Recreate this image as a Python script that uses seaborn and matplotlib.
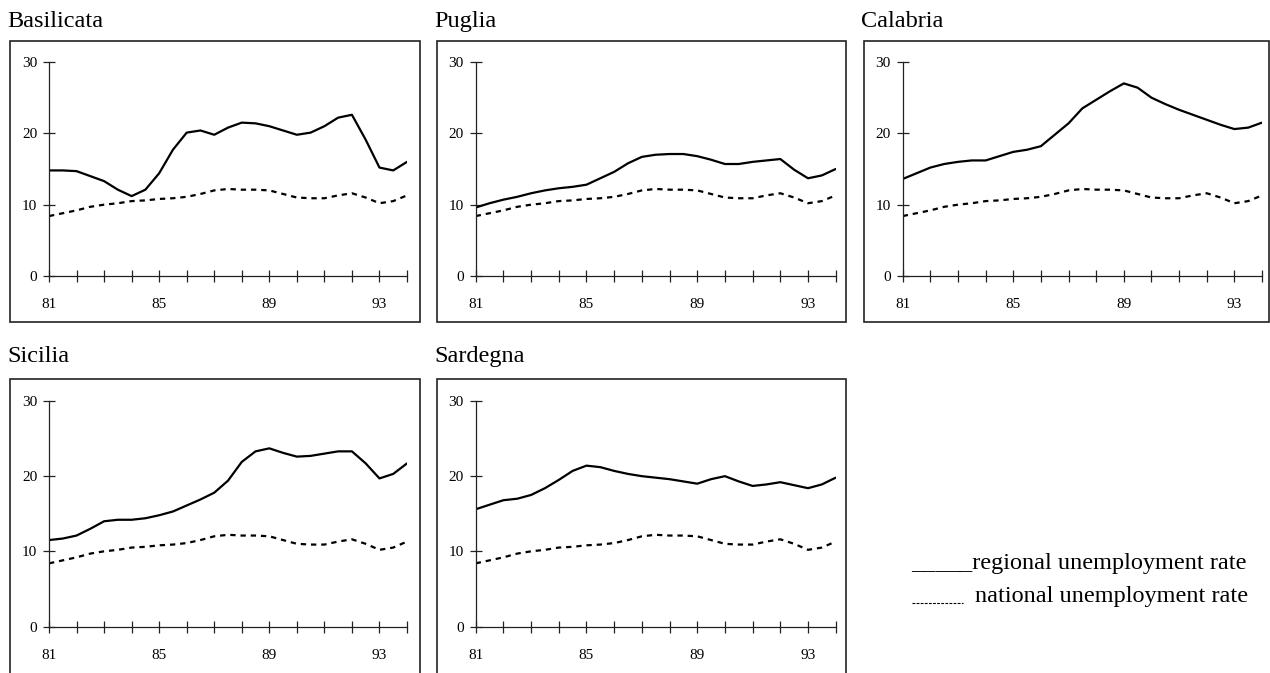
import matplotlib
matplotlib.use("Agg")
import matplotlib.pyplot as plt
from matplotlib.patches import Rectangle
from matplotlib.lines import Line2D
import seaborn as sns
import pandas as pd

sns.set_theme(style="white")
plt.rcParams['font.family'] = ['Liberation Serif', 'DejaVu Serif']

# ---- data ----
years = [81, 81.5, 82, 82.5, 83, 83.5, 84, 84.5, 85, 85.5, 86, 86.5, 87, 87.5,
         88, 88.5, 89, 89.5, 90, 90.5, 91, 91.5, 92, 92.5, 93, 93.5, 94]

national = [8.4, 8.8, 9.2, 9.7, 10.0, 10.2, 10.5, 10.6, 10.8, 10.9, 11.1, 11.5, 12.0, 12.2,
            12.1, 12.1, 12.0, 11.5, 11.0, 10.9, 10.9, 11.3, 11.6, 11.0, 10.2, 10.5, 11.3]

basilicata = [14.8, 14.8, 14.7, 14.0, 13.3, 12.1, 11.2, 12.1, 14.4, 17.7, 20.1, 20.4, 19.8, 20.8,
              21.5, 21.4, 21.0, 20.4, 19.8, 20.1, 21.0, 22.2, 22.6, 19.1, 15.2, 14.8, 16.0]
puglia = [9.6, 10.2, 10.7, 11.1, 11.6, 12.0, 12.3, 12.5, 12.8, 13.7, 14.6, 15.8, 16.7, 17.0,
          17.1, 17.1, 16.8, 16.3, 15.7, 15.7, 16.0, 16.2, 16.4, 14.9, 13.7, 14.1, 15.0]
calabria = [13.6, 14.4, 15.2, 15.7, 16.0, 16.2, 16.2, 16.8, 17.4, 17.7, 18.2, 19.8, 21.4, 23.5,
            24.7, 25.9, 27.0, 26.4, 25.0, 24.1, 23.3, 22.6, 21.9, 21.2, 20.6, 20.8, 21.5]
sicilia = [11.5, 11.7, 12.1, 13.0, 14.0, 14.2, 14.2, 14.4, 14.8, 15.3, 16.1, 16.9, 17.8, 19.4,
           21.9, 23.3, 23.7, 23.1, 22.6, 22.7, 23.0, 23.3, 23.3, 21.7, 19.7, 20.3, 21.7]
sardegna = [15.6, 16.2, 16.8, 17.0, 17.5, 18.4, 19.5, 20.7, 21.4, 21.2, 20.7, 20.3, 20.0, 19.8,
            19.6, 19.3, 19.0, 19.6, 20.0, 19.3, 18.7, 18.9, 19.2, 18.8, 18.4, 18.9, 19.8]

regions = ["Basilicata", "Puglia", "Calabria", "Sicilia", "Sardegna"]
regional_series = [basilicata, puglia, calabria, sicilia, sardegna]

xticks = [81, 82, 83, 84, 85, 86, 87, 88, 89, 90, 91, 92, 93, 94]
xticklabels = ["81", "", "", "", "85", "", "", "", "89", "", "", "", "93", ""]
yticks = [0, 10, 20, 30]
yticklabels = ["0", "10", "20", "30"]

legend_labels = ["regional unemployment rate", "national unemployment rate"]

# ---- layout (pixels) ----
W, H = 1270, 673
fig = plt.figure(figsize=(W / 100, H / 100), dpi=100)
fig.patch.set_facecolor("white")

def fx(px):
    return px / W

def fy(py):
    return 1 - py / H

# axes extents: (left, right, top, bottom) in px ; boxes: (left, right, top, bottom) ; title y
panels = [
    dict(ax=(49, 407, 62, 276), box=(10, 420, 41, 322), title_y=27),
    dict(ax=(475.7, 835.7, 62, 276), box=(437, 846, 41, 322), title_y=27),
    dict(ax=(902.7, 1262, 62, 276), box=(864, 1268.5, 41, 322), title_y=27),
    dict(ax=(49, 407, 401, 626.5), box=(10, 420, 379, 690), title_y=362),
    dict(ax=(475.7, 835.7, 401, 626.5), box=(437, 846, 379, 690), title_y=362),
]

for name, reg, p in zip(regions, regional_series, panels):
    l, r, t, b = p["ax"]
    ax = fig.add_axes([fx(l), fy(b), fx(r) - fx(l), fy(t) - fy(b)])
    ax.set_facecolor("none")
    df = pd.DataFrame({"year": years, "regional": reg, "national": national})
    sns.lineplot(data=df, x="year", y="regional", color="black", linewidth=1.6, ax=ax)
    sns.lineplot(data=df, x="year", y="national", color="black", linewidth=1.6,
                 linestyle=(0, (2.4, 2.2)), ax=ax)
    ax.set_xlim(81, 94)
    ax.set_ylim(0, 30)
    ax.set_xticks(xticks, labels=xticklabels)
    ax.set_yticks(yticks, labels=yticklabels)
    ax.set_xlabel("")
    ax.set_ylabel("")
    for s in ["top", "right"]:
        ax.spines[s].set_visible(False)
    for s in ["left", "bottom"]:
        ax.spines[s].set_visible(True)
        ax.spines[s].set_color("#222222")
        ax.spines[s].set_linewidth(0.9)
    ax.tick_params(axis="x", direction="inout", length=8, width=0.9, color="#222222",
                   pad=12, labelsize=11, labelcolor="black", bottom=True)
    ax.tick_params(axis="y", direction="inout", length=9, width=0.9, color="#222222",
                   pad=4, labelsize=11, labelcolor="black", left=True)
    ax.grid(False)

    bl, br, bt, bb = p["box"]
    fig.patches.append(Rectangle((fx(bl), fy(bb)), fx(br) - fx(bl), fy(bt) - fy(bb),
                                 transform=fig.transFigure, fill=False,
                                 edgecolor="#222222", linewidth=1.2, zorder=5))
    fig.text(fx(bl - 3), fy(p["title_y"]), name, fontsize=17.5, ha="left",
             va="baseline", color="black")

# ---- legend ----
fig.text(fx(911), fy(569), "_____" + legend_labels[0], fontsize=17.5,
         ha="left", va="baseline", color="black")
fig.lines.append(Line2D([fx(912), fx(963)], [fy(603), fy(603)], transform=fig.transFigure,
                        color="black", linewidth=0.8, linestyle=(0, (2.5, 1.2))))
fig.text(fx(975), fy(602), legend_labels[1], fontsize=17.5,
         ha="left", va="baseline", color="black")

fig.savefig("out.png", dpi=100, facecolor="white")
